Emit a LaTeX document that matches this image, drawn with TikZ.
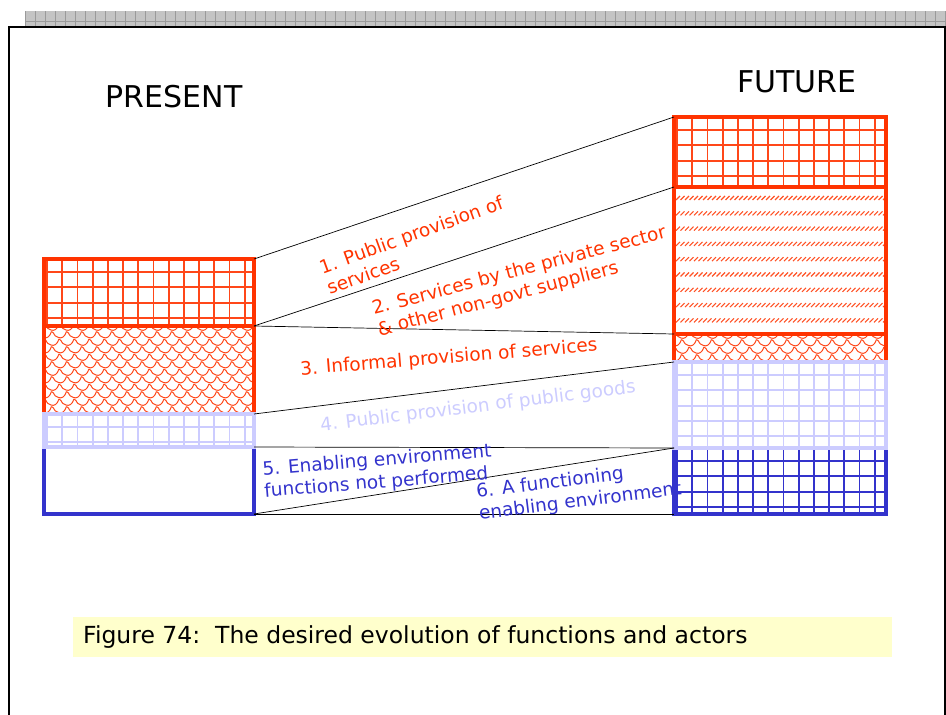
\documentclass[tikz,border=0pt]{standalone}
\usepackage{fontspec}
\setmainfont{DejaVu Sans}
\usetikzlibrary{calc}
\definecolor{cred}{HTML}{FF3300}
\definecolor{clblue}{HTML}{CCCCFF}
\definecolor{cblue}{HTML}{3333CC}
\definecolor{cyel}{HTML}{FFFFCC}
\definecolor{cgray}{HTML}{C4C4C4}
\definecolor{cdgray}{HTML}{9A9A9A}
\newcommand{\gridfill}[1]{%
  \foreach \i in {0,...,14}{\draw[#1] ($(path picture bounding box.north west)+(3+\i*15.2,-5)$) -- ++(0,300);}
  \foreach \j in {0,...,12}{\draw[#1] ($(path picture bounding box.north west)+(-5,13+\j*15.3)$) -- ++(240,0);}
}
\newcommand{\scalefill}{%
  \foreach \j in {0,...,12}{\foreach \i in {-1,...,15}{%
    \pgfmathsetmacro{\xo}{\i*15+mod(\j,2)*7.5}
    \draw[cred!90,line width=1pt] ($(path picture bounding box.north west)+(\xo,\j*7.5-2)$) .. controls +(4,2) and +(-6,-2) .. ++(7,6) .. controls +(3,1) and +(-2,6) .. ++(8,-6);
  }}
}
\newcommand{\dashfill}{%
  \foreach \j in {0,...,9}{\foreach \i in {0,...,46}{%
    \draw[cred!85,line width=1.1pt] ($(path picture bounding box.north west)+(2+\i*4.5,13+\j*15.3)$) -- ++(4,-4);
  }}
}
\tikzset{
  sect/.style={rectangle,line width=4pt,minimum width=210pt,anchor=north west,inner sep=0pt,outer sep=0pt},
  conn/.style={black,line width=0.7pt},
  lab/.style={font=\fontsize{18.5}{22}\selectfont,align=left,inner sep=0pt},
  head/.style={font=\fontsize{30}{32}\selectfont,inner sep=0pt}
}
\begin{document}
\begin{tikzpicture}[x=1pt,y=-1pt]
\useasboundingbox (0,0) rectangle (946,715);
% top strip
\fill[cgray] (25,11) rectangle (946,26);
\foreach \k in {0,...,92}{\draw[cdgray,line width=0.6pt] (25+\k*10,11) -- (25+\k*10,26);}
\draw[cdgray,line width=0.8pt] (25,21) -- (946,21);
% frame
\draw[black,line width=2pt] (9,716) -- (9,27) -- (945,27) -- (945,716);
% headings
\node[head] (present) at (174,97) {PRESENT};
\node[head] (future) at (797,82) {FUTURE};
% left bar
\node[sect,draw=cblue,minimum height=67pt] (p4) at (44,447) {};
\node[sect,draw=cred,minimum height=88pt,path picture={\scalefill}] (p2) at (44,326) {};
\node[sect,draw=cred,minimum height=67pt,path picture={\gridfill{cred!90,line width=1.8pt}}] (p1) at (44,259) {};
\node[sect,draw=clblue,minimum height=33pt,path picture={\gridfill{clblue,line width=1.8pt}}] (p3) at (44,414) {};
% right bar
\node[sect,draw=cblue,minimum width=212pt,minimum height=66pt,path picture={\gridfill{cblue,line width=1.8pt}}] (f5) at (674,448) {};
\node[sect,draw=cred,minimum width=212pt,minimum height=28pt,path picture={\scalefill}] (f3) at (674,334) {};
\node[sect,draw=cred,minimum width=212pt,minimum height=147pt,path picture={\dashfill}] (f2) at (674,187) {};
\node[sect,draw=cred,minimum width=212pt,minimum height=70pt,path picture={\gridfill{cred!90,line width=1.8pt}}] (f1) at (674,117) {};
\node[sect,draw=clblue,minimum width=212pt,minimum height=86pt,path picture={\gridfill{clblue,line width=1.8pt}}] (f4) at (674,362) {};
% connectors
\draw[conn] (p1.north east) -- (f1.north west);
\draw[conn] (p1.south east) -- (f2.north west);
\draw[conn] (p2.north east) -- (f3.north west);
\draw[conn] (p3.north east) -- (f4.north west);
\draw[conn] (p4.north east) -- (f5.north west);
\draw[conn] (p4.south east) -- (f5.north west);
\draw[conn] (p4.south east) -- (f5.south west);
% labels
\node[lab,text=cred,rotate=20] (l1) at (415,245) {1. Public provision of\\services};
\node[lab,text=cred,rotate=14.7] (l2) at (522,282) {2. Services by the private sector\\\& other non-govt suppliers};
\node[lab,text=cred,rotate=4.6] (l3) at (449,358) {3. Informal provision of services};
\node[lab,text=clblue,rotate=7] (l4) at (478,407) {4. Public provision of public goods};
\node[lab,text=cblue,rotate=4.7] (l5) at (378,472) {5. Enabling environment\\functions not performed};
\node[lab,text=cblue,rotate=7] (l6) at (579,491) {6. A functioning\\enabling environment};
% caption
\node[fill=cyel,minimum width=819pt,minimum height=40pt,anchor=north west,inner sep=0pt] (capbox) at (73,617) {};
\node[anchor=west,font=\fontsize{23.5}{26}\selectfont,inner sep=0pt] (cap) at ($(capbox.west)+(10,0)$) {Figure 74:\ \ The desired evolution of functions and actors};
\end{tikzpicture}
\end{document}
